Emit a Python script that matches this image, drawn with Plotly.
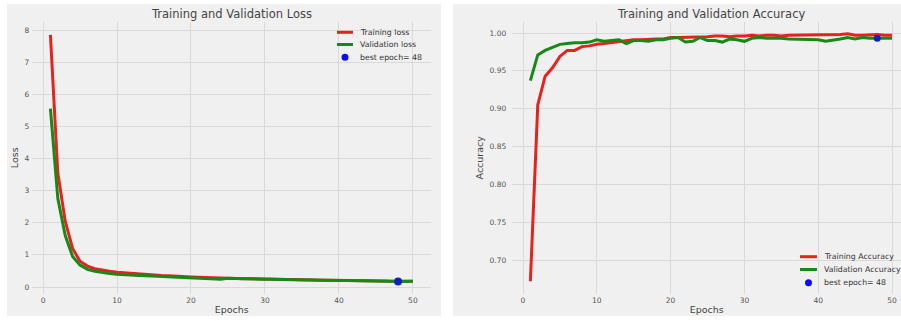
import plotly.graph_objects as go

W, H = 901, 321

epochs = list(range(1, 51))

train_loss = [7.85, 3.55, 2.05, 1.20, 0.80, 0.65, 0.57, 0.52, 0.49, 0.46,
              0.44, 0.42, 0.40, 0.38, 0.37, 0.36, 0.35, 0.33, 0.32, 0.31,
              0.30, 0.29, 0.28, 0.28, 0.27, 0.27, 0.26, 0.26, 0.25, 0.25,
              0.24, 0.24, 0.23, 0.23, 0.22, 0.22, 0.22, 0.21, 0.21, 0.21,
              0.20, 0.20, 0.20, 0.19, 0.19, 0.19, 0.18, 0.18, 0.18, 0.18]

val_loss = [5.55, 2.75, 1.60, 0.95, 0.68, 0.55, 0.49, 0.45, 0.42, 0.40,
            0.38, 0.37, 0.36, 0.35, 0.34, 0.33, 0.32, 0.31, 0.30, 0.29,
            0.29, 0.28, 0.27, 0.24, 0.27, 0.26, 0.26, 0.25, 0.25, 0.24,
            0.24, 0.23, 0.23, 0.22, 0.22, 0.22, 0.21, 0.21, 0.21, 0.20,
            0.20, 0.20, 0.19, 0.19, 0.19, 0.18, 0.18, 0.17, 0.18, 0.18]

train_acc = [0.672, 0.905, 0.943, 0.954, 0.969, 0.977, 0.977, 0.982, 0.983, 0.985,
             0.986, 0.987, 0.988, 0.990, 0.991, 0.991, 0.992, 0.992, 0.992, 0.994,
             0.994, 0.994, 0.995, 0.995, 0.995, 0.996, 0.996, 0.995, 0.996, 0.996,
             0.997, 0.996, 0.997, 0.997, 0.996, 0.997, 0.997, 0.997, 0.997, 0.997,
             0.998, 0.997, 0.998, 0.999, 0.997, 0.997, 0.998, 0.998, 0.997, 0.997]

val_acc = [0.937, 0.971, 0.977, 0.981, 0.985, 0.986, 0.987, 0.987, 0.988, 0.991,
           0.989, 0.990, 0.991, 0.986, 0.990, 0.990, 0.989, 0.991, 0.991, 0.993,
           0.994, 0.988, 0.989, 0.994, 0.990, 0.990, 0.988, 0.992, 0.991, 0.989,
           0.993, 0.994, 0.993, 0.993, 0.993, 0.992, 0.992, 0.992, 0.992, 0.991,
           0.989, 0.990, 0.992, 0.994, 0.992, 0.994, 0.993, 0.993, 0.993, 0.993]

best_epoch = 48
loss_ticks = [0, 1, 2, 3, 4, 5, 6, 7, 8]
acc_ticks = [0.70, 0.75, 0.80, 0.85, 0.90, 0.95, 1.00]
epoch_ticks = [0, 10, 20, 30, 40, 50]

RED = "#e4221e"
GREEN = "#168a16"
BLUE = "#0a0aff"
BG = "#f0f0f0"
GRID = "#d9d9d9"
FONT = "DejaVu Sans"


def fx(px):
    return px / W


def fy(py):
    return 1 - py / H


fig = go.Figure()

fig.add_trace(go.Scatter(x=epochs, y=train_loss, mode="lines", name="Training loss",
                         line=dict(color=RED, width=3), xaxis="x", yaxis="y"))
fig.add_trace(go.Scatter(x=epochs, y=val_loss, mode="lines", name="Validation loss",
                         line=dict(color=GREEN, width=3), xaxis="x", yaxis="y"))
fig.add_trace(go.Scatter(x=[best_epoch], y=[val_loss[best_epoch - 1]], mode="markers",
                         name="best epoch= %d" % best_epoch,
                         marker=dict(color="#1020c0", size=8), xaxis="x", yaxis="y"))

fig.add_trace(go.Scatter(x=epochs, y=train_acc, mode="lines", name="Training Accuracy",
                         line=dict(color=RED, width=3), xaxis="x2", yaxis="y2"))
fig.add_trace(go.Scatter(x=epochs, y=val_acc, mode="lines", name="Validation Accuracy",
                         line=dict(color=GREEN, width=3), xaxis="x2", yaxis="y2"))
fig.add_trace(go.Scatter(x=[best_epoch], y=[val_acc[best_epoch - 1]], mode="markers",
                         name="best epoch= %d" % best_epoch,
                         marker=dict(color="#1020c0", size=7), xaxis="x2", yaxis="y2"))

tickfont = dict(family=FONT, size=7.5, color="#555555")
titlefont = dict(family=FONT, size=9.5, color="#444444")

ydom = [fy(294), fy(21.5)]

axis_common = dict(showgrid=True, gridcolor=GRID, gridwidth=1, zeroline=False,
                   showline=False, ticks="", tickfont=tickfont)

fig.update_layout(
    width=W, height=H,
    margin=dict(l=0, r=0, t=0, b=0),
    paper_bgcolor="white",
    plot_bgcolor=BG,
    showlegend=False,
    xaxis=dict(domain=[fx(32.3), fx(431)], range=[-1.45, 52.45], tickvals=epoch_ticks,
               title=dict(text="Epochs", font=titlefont, standoff=2),
               anchor="y", **axis_common),
    yaxis=dict(domain=ydom, range=[-0.218, 8.265], tickvals=loss_ticks,
               title=dict(text="Loss", font=titlefont, standoff=4),
               ticklabelstandoff=2, anchor="x", **axis_common),
    xaxis2=dict(domain=[fx(512.3), 1], range=[-1.45, 51.22], tickvals=epoch_ticks,
                title=dict(text="Epochs", font=titlefont, standoff=2),
                anchor="y2", **axis_common),
    yaxis2=dict(domain=ydom, range=[0.6551, 1.0152], tickvals=acc_ticks, tickformat=".2f",
                title=dict(text="Accuracy", font=titlefont, standoff=4),
                ticklabelstandoff=5, anchor="x2", **axis_common),
)

shapes = [
    dict(type="rect", xref="paper", yref="paper", x0=fx(7), x1=fx(441), y0=fy(316), y1=fy(4),
         fillcolor=BG, line=dict(width=0), layer="below"),
    dict(type="rect", xref="paper", yref="paper", x0=fx(453), x1=1, y0=fy(316), y1=fy(4),
         fillcolor=BG, line=dict(width=0), layer="below"),
]
annotations = [
    dict(text="Training and Validation Loss", x=fx(232), y=fy(14), xref="paper", yref="paper",
         showarrow=False, xanchor="center", yanchor="middle",
         font=dict(family=FONT, size=11.5, color="#444444")),
    dict(text="Training and Validation Accuracy", x=fx(711), y=fy(14), xref="paper", yref="paper",
         showarrow=False, xanchor="center", yanchor="middle",
         font=dict(family=FONT, size=11.5, color="#444444")),
]

# legend keys (decoration)
legfont = dict(family=FONT, size=7.8, color="#333333")


def add_legend(x_line0, x_line1, x_text, rows, labels):
    colors = [RED, GREEN]
    for i, (yy, lab) in enumerate(zip(rows, labels)):
        if i < 2:
            shapes.append(dict(type="line", xref="paper", yref="paper",
                               x0=fx(x_line0), x1=fx(x_line1), y0=fy(yy), y1=fy(yy),
                               line=dict(color=colors[i], width=3)))
        else:
            cx = (x_line0 + x_line1) / 2
            shapes.append(dict(type="circle", xref="paper", yref="paper",
                               x0=fx(cx - 3.5), x1=fx(cx + 3.5), y0=fy(yy + 3.5), y1=fy(yy - 3.5),
                               fillcolor=BLUE, line=dict(width=0)))
        annotations.append(dict(text=lab, x=fx(x_text), y=fy(yy), xref="paper", yref="paper",
                                showarrow=False, xanchor="left", yanchor="middle", font=legfont))


add_legend(337, 353, 358, [32.3, 44.5, 57.3],
           [fig.data[0].name, fig.data[1].name, fig.data[2].name])
add_legend(800, 817, 822, [256.7, 269.5, 282.7],
           [fig.data[3].name, fig.data[4].name, fig.data[5].name])

fig.update_layout(shapes=shapes, annotations=annotations)

fig.write_html("out.html")
